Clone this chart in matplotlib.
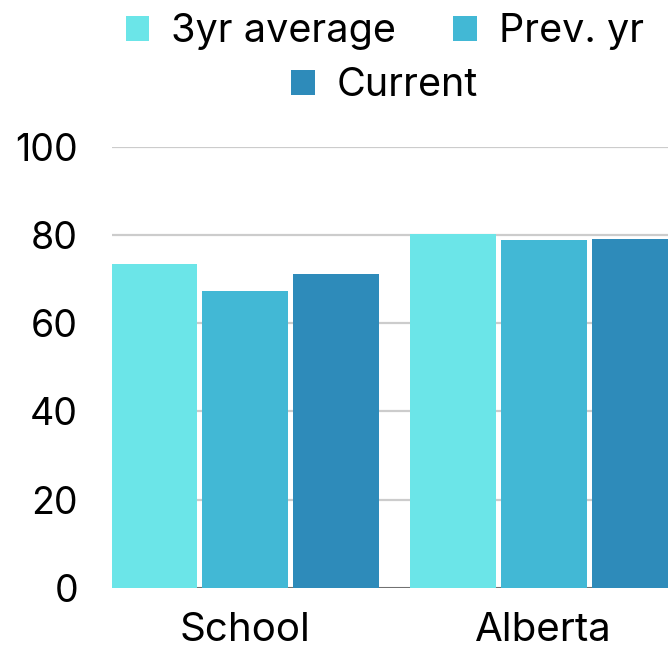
import matplotlib
matplotlib.use("Agg")
import matplotlib.pyplot as plt
from matplotlib.patches import Patch

# data
categories = ["School", "Alberta"]
series_names = ["3yr average", "Prev. yr", "Current"]
avg_3yr = [73.5, 80.3]
prev_yr = [67.4, 78.8]
current = [71.1, 79.1]
colors = ["#6be5e8", "#42b8d5", "#2e8bba"]
yticks = [0, 20, 40, 60, 80, 100]

plt.rcParams["font.family"] = ["Inter", "DejaVu Sans"]

fig = plt.figure(figsize=(6.68, 6.48), dpi=100)
ax = fig.add_axes([0.167, 0.0926, 0.833, 0.681])

pitch = 0.305
width = 0.288
x = list(range(len(categories)))
all_series = [avg_3yr, prev_yr, current]
for i, vals in enumerate(all_series):
    offs = [xi + (i - 1) * pitch for xi in x]
    ax.bar(offs, vals, width=width, color=colors[i], zorder=3)

ax.set_xlim(-0.448, 1.416)
ax.set_ylim(0, 100)
ax.set_yticks(yticks)
ax.set_yticklabels([str(t) for t in yticks], fontsize=27)
ax.set_xticks(x)
ax.set_xticklabels(categories, fontsize=29)
ax.tick_params(axis="y", length=0, pad=24)
ax.tick_params(axis="x", length=0, pad=17)
for s in ax.spines.values():
    s.set_visible(False)
ax.grid(axis="y", color="#cccccc", linewidth=1.6, zorder=0)
ax.axhline(0, color="#666666", linewidth=2, zorder=2)
ax.set_axisbelow(True)

handles = [Patch(facecolor=c, edgecolor="none") for c in colors]
leg_kw = dict(fontsize=28.5, frameon=False, handlelength=0.6, handleheight=0.6,
              handletextpad=0.55, columnspacing=1.45, borderpad=0, borderaxespad=0)
leg1 = fig.legend(handles[:2], series_names[:2], ncol=2, loc="center",
                  bbox_to_anchor=(0.576, 1 - 32 / 648), **leg_kw)
leg2 = fig.legend(handles[2:], series_names[2:], ncol=1, loc="center",
                  bbox_to_anchor=(0.576, 1 - 86 / 648), **leg_kw)

fig.savefig("out.png", dpi=100)
